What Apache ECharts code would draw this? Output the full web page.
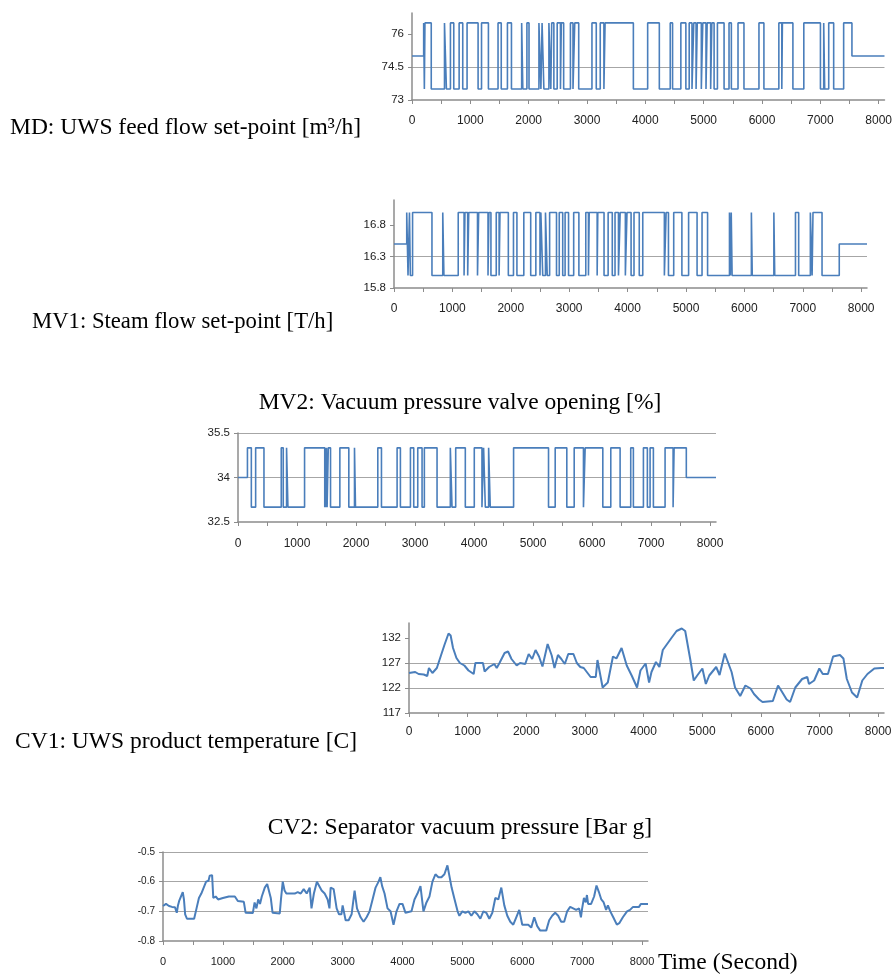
<!DOCTYPE html>
<html><head><meta charset="utf-8">
<script src="https://cdn.jsdelivr.net/npm/echarts@6/dist/echarts.min.js"></script>
<style>html,body{margin:0;padding:0;background:#fff}#c{width:895px;height:976px}</style>
</head><body><div id="c"></div>
<script>
// ---------- data ----------
const xTicks = [0,500,1000,1500,2000,2500,3000,3500,4000,4500,5000,5500,6000,6500,7000,7500,8000];
const xLabels = [0,1000,2000,3000,4000,5000,6000,7000,8000];

const mdTicks = [73,74.5,76];
const mdT = [0,200,212,222,330,557,590,659,716,808,870,944,1133,1192,1310,1475,1530,1636,1705,1880,1900,1970,2006,2176,2210,2230,2261,2347,2380,2395,2432,2489,2545,2560,2600,2716,2760,2790,2858,3085,3159,3227,3290,3310,3795,4040,4240,4427,4467,4609,4695,4752,4800,4830,4870,4890,4960,4985,5040,5060,5120,5140,5179,5236,5350,5435,5475,5589,5691,5948,6033,6289,6340,6350,6530,6717,7002,7058,7075,7144,7229,7400,7542,8100];
const mdV = [75,
76.5,73.5,76.5,73.5,76.5,73.5,76.5,73.5,76.5,73.5,
76.5,73.5,76.5,73.5,76.5,73.5,76.5,73.5,76.5,73.5,
76.5,73.5,76.5,73.5,76.5,73.5,76.5,73.5,76.5,73.5,
76.5,73.5,76.5,73.5,76.5,73.5,76.5,73.5,76.5,73.5,
76.5,73.5,76.5,73.5,76.5,73.5,76.5,73.5,76.5,73.5,
76.5,73.5,76.5,73.5,76.5,73.5,76.5,73.5,76.5,73.5,
76.5,73.5,76.5,73.5,76.5,73.5,76.5,73.5,76.5,73.5,
76.5,73.5,76.5,73.5,76.5,73.5,76.5,73.5,76.5,73.5,
76.5,
75,75];

const mv1Ticks = [15.8,16.3,16.8];
const mv1T = [0,218,240,265,280,318,650,835,855,1100,1200,1215,1262,1280,1430,1450,1610,1625,1660,1751,1800,1815,1958,2046,2105,2223,2341,2429,2500,2515,2547,2594,2624,2665,2783,2830,2889,2930,2989,3077,3166,3284,3330,3343,3479,3490,3597,3667,3738,3785,3844,3873,3962,3990,4060,4110,4200,4260,4630,4660,4700,4790,4930,5045,5190,5275,5370,5745,5760,5775,5790,6120,6135,6505,6520,6875,6930,7130,7160,7175,7330,7625,8100];
const mv1V = [16.5,
17,16,17,16,17,16,17,16,17,16,
17,16,17,16,17,16,17,16,17,16,
17,16,17,16,17,16,17,16,17,16,
17,16,17,16,17,16,17,16,17,16,
17,16,17,16,17,16,17,16,17,16,
17,16,17,16,17,16,17,16,17,16,
17,16,17,16,17,16,17,16,17,16,
17,16,17,16,17,16,17,16,17,16,
16.5,16.5];

const mv2Ticks = [32.5,34,35.5];
const mv2T = [0,160,226,299,440,733,767,823,846,1128,1470,1480,1490,1500,1510,1530,1568,1726,1878,1974,1991,2369,2431,2696,2752,2922,2978,3046,3119,3158,3373,3598,3627,3689,3852,4004,4134,4162,4191,4247,4275,4670,5262,5375,5572,5697,5854,5883,6182,6317,6475,6655,6700,6870,6937,6983,7039,7237,7373,7390,7597,8100];
const mv2V = [34,
35,33,35,33,35,33,35,33,35,33,
35,33,35,33,35,33,35,33,35,33,
35,33,35,33,35,33,35,33,35,33,
35,33,35,33,35,33,35,33,35,33,
35,33,35,33,35,33,35,33,35,33,
35,33,35,33,35,33,35,33,35,
34,34];

const cv1Ticks = [117,122,127,132];
const cv1T = [0,106,164,252,311,340,399,475,545,604,674,710,751,809,868,944,1015,1103,1132,1261,1290,1366,1455,1496,1543,1630,1689,1748,1836,1894,1982,2041,2100,2158,2217,2276,2364,2434,2481,2540,2598,2657,2716,2804,2862,2921,2980,3097,3126,3185,3214,3302,3390,3478,3537,3625,3713,3801,3889,3947,4035,4094,4135,4211,4270,4328,4475,4563,4651,4710,4739,4798,4856,4915,5003,5062,5120,5238,5296,5384,5501,5560,5648,5736,5824,5883,5971,6029,6205,6293,6352,6440,6499,6587,6704,6792,6821,6909,6997,7056,7144,7232,7349,7408,7466,7554,7642,7730,7818,7935,8053,8100];
const cv1V = [125.0,125.2,124.8,124.7,124.4,126.0,125.0,126.0,128.5,130.6,132.9,132.5,130.0,128.0,127.0,126.5,125.5,124.8,127.0,127.0,125.3,126.2,126.8,126.0,127.0,129.0,129.3,127.8,126.5,127.0,126.8,128.8,127.8,129.6,128.3,126.3,130.8,128.5,126.0,128.6,127.8,126.8,128.8,128.8,127.0,126.2,126.0,124.2,123.8,124.2,127.6,122.1,123.1,128.3,127.9,130.0,126.5,124.4,122.1,125.5,126.9,123.1,125.2,127.2,126.2,129.6,132.0,133.4,133.9,133.4,133.0,127.6,123.5,124.5,125.9,122.8,124.5,126.2,124.6,128.9,125.2,122.1,120.4,122.5,121.9,120.8,119.7,119.2,119.4,122.5,121.4,119.7,119.2,122.1,123.8,124.2,122.8,123.5,125.9,124.8,124.8,128.3,128.6,127.9,123.8,121.1,120.1,123.5,124.8,125.9,126.0,126.0];

const cv2Ticks = [-0.8,-0.7,-0.6,-0.5];
const cv2T = [0,50,100,150,200,230,250,270,300,330,350,370,400,450,520,560,600,640,680,720,760,780,820,840,880,920,1000,1100,1200,1250,1350,1380,1500,1530,1560,1590,1620,1650,1700,1740,1770,1800,1830,1950,1970,2000,2030,2060,2200,2250,2300,2350,2400,2450,2480,2520,2570,2600,2650,2700,2750,2780,2800,2850,2900,2940,2980,3000,3050,3100,3150,3200,3240,3300,3350,3400,3450,3500,3550,3600,3630,3660,3700,3750,3800,3850,3900,3950,4000,4050,4150,4200,4250,4300,4350,4400,4450,4500,4550,4600,4650,4700,4750,4780,4820,4870,4920,4950,5000,5050,5100,5150,5200,5250,5300,5350,5400,5450,5500,5550,5600,5650,5700,5750,5800,5850,5900,5950,6000,6100,6150,6200,6250,6300,6400,6450,6500,6550,6600,6650,6700,6750,6800,6850,6900,6950,6980,7000,7030,7060,7080,7100,7150,7200,7240,7280,7320,7360,7400,7430,7470,7520,7580,7620,7680,7750,7800,7850,7950,7980,8100];
const cv2V = [-0.682,-0.675,-0.682,-0.685,-0.686,-0.705,-0.68,-0.665,-0.66,-0.635,-0.66,-0.71,-0.725,-0.725,-0.725,-0.69,-0.655,-0.64,-0.62,-0.6,-0.597,-0.58,-0.578,-0.655,-0.65,-0.66,-0.655,-0.65,-0.65,-0.665,-0.668,-0.705,-0.706,-0.67,-0.69,-0.66,-0.675,-0.65,-0.62,-0.608,-0.61,-0.655,-0.705,-0.707,-0.66,-0.6,-0.63,-0.64,-0.64,-0.635,-0.64,-0.625,-0.64,-0.62,-0.69,-0.64,-0.6,-0.603,-0.63,-0.64,-0.66,-0.69,-0.62,-0.625,-0.69,-0.71,-0.71,-0.68,-0.73,-0.73,-0.71,-0.63,-0.69,-0.72,-0.735,-0.72,-0.7,-0.66,-0.62,-0.6,-0.585,-0.615,-0.64,-0.69,-0.7,-0.745,-0.7,-0.675,-0.675,-0.705,-0.7,-0.66,-0.64,-0.615,-0.7,-0.67,-0.65,-0.6,-0.575,-0.585,-0.585,-0.575,-0.545,-0.55,-0.62,-0.66,-0.7,-0.715,-0.7,-0.705,-0.7,-0.715,-0.7,-0.71,-0.725,-0.7,-0.705,-0.725,-0.705,-0.655,-0.66,-0.62,-0.68,-0.715,-0.735,-0.745,-0.72,-0.695,-0.745,-0.745,-0.755,-0.72,-0.75,-0.765,-0.765,-0.73,-0.715,-0.705,-0.715,-0.735,-0.735,-0.7,-0.685,-0.69,-0.695,-0.69,-0.72,-0.69,-0.655,-0.67,-0.645,-0.675,-0.675,-0.65,-0.613,-0.635,-0.66,-0.67,-0.695,-0.68,-0.7,-0.72,-0.745,-0.74,-0.72,-0.7,-0.695,-0.685,-0.685,-0.675,-0.675];

// ---------- chart ----------
const BLUE = '#4a7ebb';
const AXIS = '#8c8c8c';
const GRIDC = '#a6a6a6';
const SANS = 'Liberation Sans, Arial, sans-serif';
const zip = (t, v) => t.map((x, i) => [x, v[i]]);

const grids = [
  {left: 412, top: 13, width: 474, height: 87},
  {left: 394, top: 200, width: 473, height: 88},
  {left: 238, top: 433, width: 478, height: 89},
  {left: 409, top: 623, width: 475, height: 90},
  {left: 163, top: 852, width: 485, height: 89}
];
const xfs = [12, 12, 12, 12, 11];
const yfs = [11.5, 11.5, 11.5, 11.5, 10];
const xMargin = [15, 15, 16, 13, 15];

const xAxes = grids.map((g, i) => ({
  type: 'value', gridIndex: i, min: 0, max: 8100,
  axisLine: {show: true, onZero: false, lineStyle: {color: AXIS, width: 1.5}},
  axisTick: {show: true, customValues: xTicks, length: 4, lineStyle: {color: AXIS}},
  axisLabel: {customValues: xLabels, fontSize: xfs[i], color: '#222', fontFamily: SANS, margin: xMargin[i],
    formatter: v => String(Math.round(v))},
  splitLine: {show: false}
}));

function yAx(i, min, max, interval, ticks, dec, showMax) {
  return {
    type: 'value', gridIndex: i, min, max, interval,
    axisLine: {show: true, onZero: false, lineStyle: {color: AXIS, width: 1.5}},
    axisTick: {show: true, customValues: ticks, length: 4, lineStyle: {color: AXIS}},
    axisLabel: {customValues: ticks, fontSize: yfs[i], color: '#222', fontFamily: SANS, margin: 8,
      formatter: v => (dec ? Number(v).toFixed(dec) : String(Math.round(v * 10) / 10))},
    splitLine: {show: true, showMinLine: false, showMaxLine: showMax, lineStyle: {color: GRIDC, width: 1}}
  };
}
const yAxes = [
  yAx(0, 73, 76.95, 1.5, mdTicks, 0, false),
  yAx(1, 15.8, 17.2, 0.5, mv1Ticks, 0, false),
  yAx(2, 32.5, 35.5, 1.5, mv2Ticks, 0, true),
  yAx(3, 117, 135, 5, cv1Ticks, 0, false),
  yAx(4, -0.8, -0.5, 0.1, cv2Ticks, 1, true)
];

function stepSeries(i, t, v) {
  return {type: 'line', xAxisIndex: i, yAxisIndex: i, step: 'end', data: zip(t, v),
    showSymbol: false, symbol: 'none', animation: false,
    lineStyle: {color: BLUE, width: 1.6}};
}
function lineSeries(i, t, v) {
  return {type: 'line', xAxisIndex: i, yAxisIndex: i, data: zip(t, v),
    showSymbol: false, symbol: 'none', animation: false,
    lineStyle: {color: BLUE, width: 2}};
}

function txt(x, y, text, align, size) {
  return {type: 'text', x, y, style: {text, font: (size || 23.5) + 'px "Liberation Serif", "Times New Roman", serif',
    fill: '#000', textAlign: align || 'left', textVerticalAlign: 'middle'}};
}

const chart = echarts.init(document.getElementById('c'), null, {renderer: 'canvas'});
chart.setOption({
  animation: false,
  backgroundColor: '#fff',
  grid: grids,
  xAxis: xAxes,
  yAxis: yAxes,
  series: [
    stepSeries(0, mdT, mdV),
    stepSeries(1, mv1T, mv1V),
    stepSeries(2, mv2T, mv2V),
    lineSeries(3, cv1T, cv1V),
    lineSeries(4, cv2T, cv2V)
  ],
  graphic: [
    txt(10, 128, 'MD: UWS feed flow set-point [m³/h]'),
    txt(32, 322, 'MV1: Steam flow set-point [T/h]', 'left', 22.7),
    txt(460, 403, 'MV2: Vacuum pressure valve opening [%]', 'center'),
    txt(15, 742, 'CV1: UWS product temperature [C]'),
    txt(460, 828, 'CV2: Separator vacuum pressure [Bar g]', 'center'),
    txt(658, 963, 'Time (Second)')
  ]
});
</script>
</body></html>
